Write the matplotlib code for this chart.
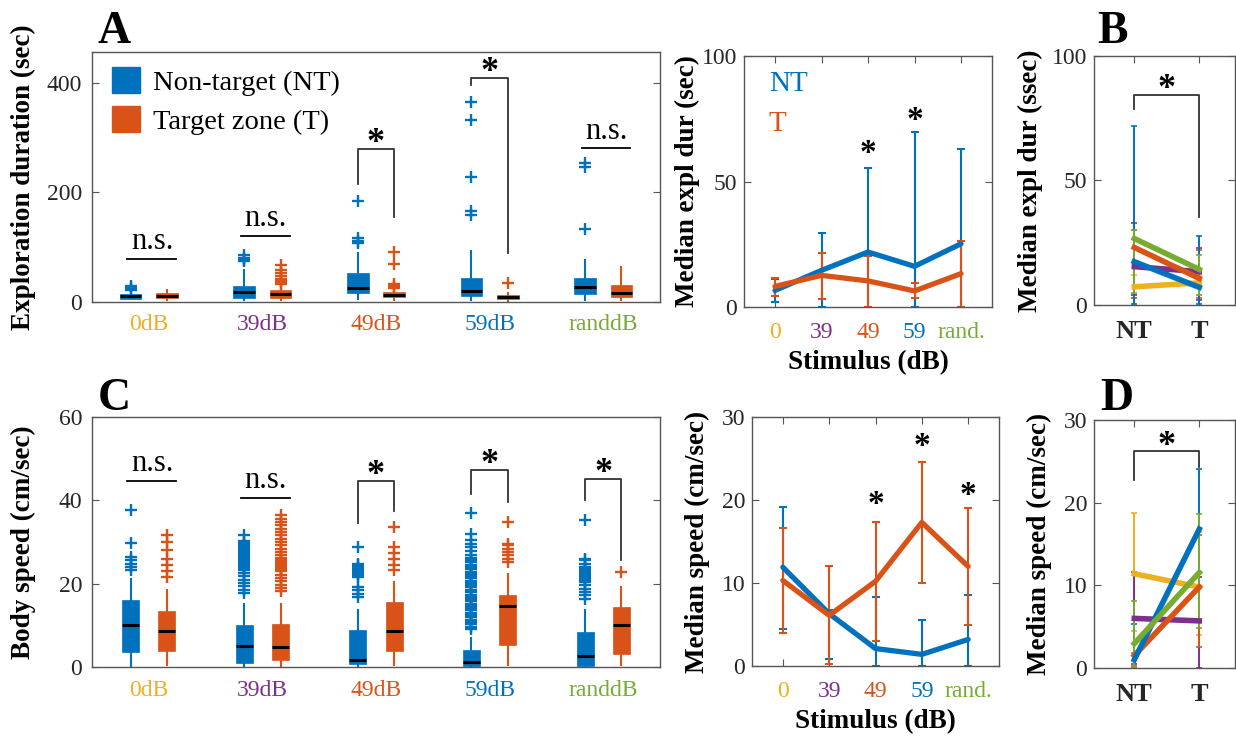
import matplotlib

matplotlib.use("Agg")
import matplotlib.pyplot as plt  # noqa: E402
from matplotlib.patches import Patch  # noqa: E402

plt.rcParams["font.family"] = ["Liberation Serif", "DejaVu Serif"]

# MATLAB default line colours
BLUE, ORANGE, YELLOW, PURPLE, GREEN = "#0072BD", "#D95319", "#EDB120", "#7E2F8E", "#77AC30"
STIM_COLORS = [YELLOW, PURPLE, ORANGE, BLUE, GREEN]
AX_COLOR = "#555555"

BOX_LABELS = ["0dB", "39dB", "49dB", "59dB", "randdB"]
LINE_LABELS = ["0", "39", "49", "59", "rand."]

# ---- A: exploration duration (sec), box stats per stimulus ----
A_NT_Q1 = [6.3, 7.3, 16.4, 10.9, 15.4]
A_NT_MED = [10.4, 18.2, 25.0, 19.5, 27.5]
A_NT_Q3 = [15.4, 29.3, 52.0, 43.9, 43.9]
A_NT_LO = [5.0, 4.3, 4.9, 4.2, 3.2]
A_NT_HI = [17.0, 59.0, 89.6, 93.0, 76.0]
A_NT_FLIERS = [[22, 26, 30], [74, 77, 81, 85], [107, 111, 117, 184],
               [159, 166, 228, 332, 364], [134, 247, 254]]
A_T_Q1 = [7.4, 8.0, 9.1, 4.9, 9.1]
A_T_MED = [10.6, 15.4, 13.5, 8.6, 16.4]
A_T_Q3 = [15.9, 22.6, 18.2, 12.3, 31.8]
A_T_LO = [3.2, 3.0, 3.0, 2.0, 3.2]
A_T_HI = [21.0, 27.0, 21.0, 16.4, 64.0]
A_T_FLIERS = [[], [32, 35, 38, 42, 48, 53, 59, 67], [26, 30, 33, 70, 91], [35.4], []]
A_SIG = ["n.s.", "n.s.", "*", "*", "n.s."]
A_SIG_Y = [79, 121, 279, 408, 280]
A_SIG_LEG_NT = [None, None, 216, 396, None]
A_SIG_LEG_T = [None, None, 155, 90, None]

# ---- C: body speed (cm/sec), box stats per stimulus ----
C_NT_Q1 = [3.6, 1.0, 0.8, 0.2, 0.2]
C_NT_MED = [10.0, 5.1, 1.8, 1.2, 2.6]
C_NT_Q3 = [16.2, 10.0, 8.8, 4.0, 8.4]
C_NT_LO = [0.3, 0.0, 0.0, 0.0, 0.0]
C_NT_HI = [21.2, 15.2, 13.6, 7.0, 13.6]
C_NT_FLIERS = [
    [23.2, 24.0, 24.8, 25.6, 26.4, 29.8, 37.8],
    [17.8, 18.6, 19.4, 20.2, 21.0, 21.8, 22.6, 23.4, 23.8, 24.2, 24.6, 25.0, 25.4,
     25.8, 26.2, 26.6, 27.0, 27.4, 27.8, 28.2, 28.6, 29.0, 29.4, 29.8, 30.2, 31.8],
    [16.8, 17.6, 18.4, 19.2, 21.6, 22.0, 22.4, 22.8, 23.2, 23.6, 24.0, 24.4, 24.8, 28.8],
    [9.2, 9.7, 10.3, 10.8, 11.4, 11.9, 12.5, 13.0, 13.6, 14.1, 14.7, 15.2, 15.8, 16.3,
     16.9, 17.4, 18.0, 18.5, 19.1, 19.6, 20.2, 20.7, 21.3, 21.8, 22.4, 22.9, 23.5, 24.0,
     24.6, 25.1, 25.7, 26.2, 26.8, 27.9, 28.8, 29.6, 30.4, 32.0, 37.0],
    [16.4, 17.2, 18.0, 18.8, 19.6, 20.4, 20.8, 21.2, 21.6, 22.0, 22.4, 22.8, 23.2,
     23.6, 24.0, 24.8, 25.6, 26.0, 35.4],
]
C_T_Q1 = [3.8, 1.6, 3.8, 5.4, 3.2]
C_T_MED = [8.6, 4.8, 8.6, 14.6, 10.2]
C_T_Q3 = [13.4, 10.4, 15.6, 17.4, 14.4]
C_T_LO = [0.4, 0.2, 0.4, 0.4, 0.4]
C_T_HI = [18.4, 15.2, 20.4, 22.4, 19.2]
C_T_FLIERS = [
    [21.5, 23.0, 24.5, 26.0, 28.0, 30.0, 31.6],
    [18.2, 19.0, 19.8, 20.6, 21.4, 22.2, 23.0, 23.4, 23.8, 24.2, 24.6, 25.0, 25.4, 25.8,
     26.2, 26.8, 27.6, 28.4, 29.2, 30.0, 30.8, 31.6, 32.4, 33.2, 34.0, 34.8, 35.6, 36.4],
    [23.4, 24.6, 26.0, 27.4, 28.8, 33.6],
    [25.2, 26.0, 26.8, 27.6, 28.4, 29.2, 29.6, 34.8],
    [22.8],
]
C_SIG = ["n.s.", "n.s.", "*", "*", "*"]
C_SIG_Y = [44.6, 40.6, 44.6, 47.2, 45.2]
C_SIG_LEG_NT = [None, None, 34.6, 41.6, 40.0]
C_SIG_LEG_T = [None, None, 37.4, 39.6, 25.8]

# ---- middle top: median exploration duration ----
NT_DUR = [6.6, 14.6, 21.9, 16.2, 25.2]
NT_DUR_LO = [2.0, 0.0, 0.0, 0.0, 0.0]
NT_DUR_HI = [11.3, 29.5, 55.5, 69.7, 63.0]
T_DUR = [8.2, 12.6, 10.4, 6.4, 13.3]
T_DUR_LO = [4.3, 3.0, 0.0, 3.4, 0.0]
T_DUR_HI = [11.7, 21.4, 20.2, 9.5, 26.2]
DUR_STARS = [None, None, 61.0, 74.4, None]

# ---- middle bottom: median speed ----
NT_SPD = [11.9, 6.3, 2.1, 1.4, 3.2]
NT_SPD_LO = [4.5, 0.9, 0.0, 0.0, 0.0]
NT_SPD_HI = [19.2, 6.8, 8.3, 5.6, 8.6]
T_SPD = [10.3, 6.1, 10.2, 17.3, 12.0]
T_SPD_LO = [4.0, 0.3, 3.0, 10.0, 5.0]
T_SPD_HI = [16.6, 12.1, 17.3, 24.6, 19.0]
SPD_STARS = [None, None, 19.4, 26.5, 20.6]

# ---- B / D: per stimulus NT -> T (order: 0, 39, 49, 59, rand) ----
B_NT = [7.3, 15.4, 23.1, 17.4, 26.7]
B_T = [8.9, 13.4, 10.7, 7.1, 14.3]
B_NT_LO = [3.0, 4.0, 3.0, 0.5, 5.0]
B_NT_HI = [12.0, 33.0, 30.0, 72.0, 30.0]
B_T_LO = [4.0, 2.0, 3.0, 0.5, 4.0]
B_T_HI = [12.0, 23.0, 22.0, 27.7, 20.0]
B_SIG = (84.2, 78.9, 35.4)

D_NT = [11.4, 6.0, 1.5, 1.0, 2.95]
D_T = [9.8, 5.7, 9.8, 16.8, 11.55]
D_NT_LO = [4.5, 0.5, 0.2, 0.0, 0.0]
D_NT_HI = [18.8, 11.6, 1.8, 5.3, 8.1]
D_T_LO = [4.0, 0.0, 2.6, 9.8, 4.8]
D_T_HI = [16.5, 11.0, 16.1, 24.1, 18.6]
D_SIG = (26.2, 22.7, 24.3)

YLAB_FS = 19.5


def px_axes(fig, left, top, right, bottom):
    W, H = 1236, 739
    return fig.add_axes([left / W, 1 - bottom / H, (right - left) / W, (bottom - top) / H])


def style(ax, top_ticks=True):
    for s in ax.spines.values():
        s.set_color(AX_COLOR)
        s.set_linewidth(1.0)
    ax.tick_params(direction="in", length=5, width=0.8, color=AX_COLOR,
                   labelsize=17, labelcolor="#262626", right=True, top=top_ticks, pad=7)


def sig_mark(ax, x0, x1, y, kind, leg0, leg1, fs):
    if kind == "n.s.":
        ax.plot([x0 - 0.03, x1 + 0.08], [y, y], color="black", lw=1.3)
        ax.annotate("n.s.", ((x0 + x1) / 2 + 0.03, y), xytext=(0, 2), textcoords="offset points",
                    ha="center", va="bottom", fontsize=fs)
    else:
        ax.plot([x0, x0, x1, x1], [leg0, y, y, leg1], color="#333333", lw=1.3)
        ax.annotate("*", ((x0 + x1) / 2, y), xytext=(0, -8), textcoords="offset points",
                    ha="center", va="bottom", fontsize=fs + 4, fontweight="bold")


def box_panel(ax, nt, t, sigs, width, ylim, yticks, ylabel, fs_sig):
    pos = range(1, 6)
    for stats, color, off in ((nt, BLUE, -0.16), (t, ORANGE, 0.16)):
        q1, med, q3, lo, hi, fl = stats
        bx = [dict(q1=q1[i], med=med[i], q3=q3[i], whislo=lo[i], whishi=hi[i], fliers=fl[i])
              for i in range(5)]
        ax.bxp(bx, positions=[p + off for p in pos], widths=width, patch_artist=True,
               showcaps=False,
               boxprops=dict(facecolor=color, edgecolor=color, linewidth=0.5),
               medianprops=dict(color="black", linewidth=2.2),
               whiskerprops=dict(color=color, linewidth=1.5),
               flierprops=dict(marker="+", markeredgecolor=color, markersize=9, markeredgewidth=1.7))
    kinds, ys, legs0, legs1 = sigs
    for i, p in enumerate(pos):
        sig_mark(ax, p - 0.16, p + 0.16, ys[i], kinds[i], legs0[i], legs1[i], fs_sig)
    style(ax, top_ticks=False)
    ax.set_xlim(0.5, 5.5)
    ax.set_ylim(*ylim)
    ax.set_yticks(yticks)
    ax.set_xticks(list(pos))
    ax.set_xticklabels(BOX_LABELS, fontsize=17)
    ax.tick_params(axis="x", length=0, pad=9)
    for lab, c in zip(ax.get_xticklabels(), STIM_COLORS):
        lab.set_color(c)
    ax.set_ylabel(ylabel, fontsize=YLAB_FS, fontweight="bold")
    ax.yaxis.set_label_coords(-0.098, 0.5)


def line_panel(ax, nt, nt_lo, nt_hi, t, t_lo, t_hi, stars, ylim, yticks, ylabel, lab_x):
    xs = list(range(1, 6))
    for vals, lo, hi, color in ((nt, nt_lo, nt_hi, BLUE), (t, t_lo, t_hi, ORANGE)):
        yerr = [[v - l for v, l in zip(vals, lo)], [h - v for v, h in zip(vals, hi)]]
        ax.errorbar(xs, vals, yerr=yerr, fmt="none", ecolor=color, elinewidth=1.5,
                    capsize=3, capthick=1.5)
    for vals, color in ((nt, BLUE), (t, ORANGE)):
        ax.plot(xs, vals, color=color, lw=3.8, solid_capstyle="round")
    for x, s in zip(xs, stars):
        if s is not None:
            ax.text(x, s, "*", ha="center", va="center", fontsize=24, fontweight="bold")
    style(ax)
    ax.set_xlim(1 / 3, 5 + 2 / 3)
    ax.set_ylim(*ylim)
    ax.set_yticks(yticks)
    ax.set_xticks(xs)
    ax.set_xticklabels(LINE_LABELS, fontsize=17)
    ax.tick_params(axis="x", pad=11)
    ax.tick_params(axis="y", pad=5)
    for lab, c in zip(ax.get_xticklabels(), STIM_COLORS):
        lab.set_color(c)
    ax.set_xlabel("Stimulus (dB)", fontsize=YLAB_FS, fontweight="bold", labelpad=5)
    ax.set_ylabel(ylabel, fontsize=YLAB_FS, fontweight="bold")
    ax.yaxis.set_label_coords(lab_x, 0.5)


def pair_panel(ax, nt, t, nt_lo, nt_hi, t_lo, t_hi, sig, ylim, yticks, ylabel, lab_x):
    for i, c in enumerate(STIM_COLORS):
        ax.errorbar([1, 2], [nt[i], t[i]],
                    yerr=[[nt[i] - nt_lo[i], t[i] - t_lo[i]], [nt_hi[i] - nt[i], t_hi[i] - t[i]]],
                    fmt="none", ecolor=c, elinewidth=1.4, capsize=2, capthick=1.2)
    for i, c in enumerate(STIM_COLORS):
        ax.plot([1, 2], [nt[i], t[i]], color=c, lw=4)
    top, leg0, leg1 = sig
    ax.plot([1, 1, 2, 2], [leg0, top, top, leg1], color="#333333", lw=1.3)
    ax.annotate("*", (1.5, top), xytext=(0, -8), textcoords="offset points",
                ha="center", va="bottom", fontsize=26, fontweight="bold")
    style(ax)
    ax.set_xlim(0.38, 2.55)
    ax.set_ylim(*ylim)
    ax.set_yticks(yticks)
    ax.set_xticks([1, 2])
    ax.set_xticklabels(["NT", "T"], fontsize=19, fontweight="bold")
    ax.tick_params(axis="x", pad=11)
    ax.tick_params(axis="y", pad=5)
    ax.set_ylabel(ylabel, fontsize=YLAB_FS, fontweight="bold")
    ax.yaxis.set_label_coords(lab_x, 0.5)


fig = plt.figure(figsize=(12.36, 7.39), dpi=100)

ax_a = px_axes(fig, 92, 52, 660, 302)
box_panel(ax_a,
          (A_NT_Q1, A_NT_MED, A_NT_Q3, A_NT_LO, A_NT_HI, A_NT_FLIERS),
          (A_T_Q1, A_T_MED, A_T_Q3, A_T_LO, A_T_HI, A_T_FLIERS),
          (A_SIG, A_SIG_Y, A_SIG_LEG_NT, A_SIG_LEG_T),
          0.19, (0, 456), [0, 200, 400], "Exploration duration (sec)", 22)
ax_a.legend(handles=[Patch(facecolor=BLUE, edgecolor=BLUE, label="Non-target (NT)"),
                     Patch(facecolor=ORANGE, edgecolor=ORANGE, label="Target zone (T)")],
            loc="upper left", bbox_to_anchor=(0.035, 0.94), frameon=False, fontsize=20.5,
            handlelength=1.0, handleheight=1.05, handletextpad=0.45, labelspacing=0.35,
            borderaxespad=0, borderpad=0)

ax_c = px_axes(fig, 92, 417, 660, 667)
box_panel(ax_c,
          (C_NT_Q1, C_NT_MED, C_NT_Q3, C_NT_LO, C_NT_HI, C_NT_FLIERS),
          (C_T_Q1, C_T_MED, C_T_Q3, C_T_LO, C_T_HI, C_T_FLIERS),
          (C_SIG, C_SIG_Y, C_SIG_LEG_NT, C_SIG_LEG_T),
          0.15, (0, 60), [0, 20, 40, 60], "Body speed (cm/sec)", 22)

ax_mt = px_axes(fig, 744, 56, 992, 307)
line_panel(ax_mt, NT_DUR, NT_DUR_LO, NT_DUR_HI, T_DUR, T_DUR_LO, T_DUR_HI, DUR_STARS,
           (0, 100), [0, 50, 100], "Median expl dur (sec)", -0.177)
ax_mt.text(0.1, 0.89, "NT", color=BLUE, fontsize=21, transform=ax_mt.transAxes, va="center")
ax_mt.text(0.1, 0.73, "T", color=ORANGE, fontsize=21, transform=ax_mt.transAxes, va="center")

ax_mb = px_axes(fig, 752, 417, 999, 666)
line_panel(ax_mb, NT_SPD, NT_SPD_LO, NT_SPD_HI, T_SPD, T_SPD_LO, T_SPD_HI, SPD_STARS,
           (0, 30), [0, 10, 20, 30], "Median speed (cm/sec)", -0.169)

ax_b = px_axes(fig, 1094, 56, 1235, 305)
pair_panel(ax_b, B_NT, B_T, B_NT_LO, B_NT_HI, B_T_LO, B_T_HI, B_SIG,
           (0, 100), [0, 50, 100], "Median expl dur (ssec)", -0.36)

ax_d = px_axes(fig, 1094, 420, 1235, 668)
pair_panel(ax_d, D_NT, D_T, D_NT_LO, D_NT_HI, D_T_LO, D_T_HI, D_SIG,
           (0, 30), [0, 10, 20, 30], "Median speed (cm/sec)", -0.30)

for letter, x, y in (("A", 98, 43), ("B", 1097, 43), ("C", 98, 410), ("D", 1100, 410)):
    fig.text(x / 1236, 1 - y / 739, letter, fontsize=33, fontweight="bold", va="baseline")

fig.savefig("out.png", dpi=100)
